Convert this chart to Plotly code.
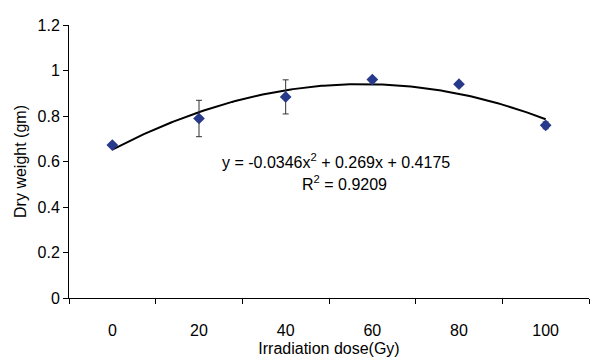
import numpy as np
import plotly.graph_objects as go

doses = ["0", "20", "40", "60", "80", "100"]
dry_weight = [0.672, 0.789, 0.884, 0.960, 0.940, 0.759]
err = [0.005, 0.080, 0.075, 0.005, 0.005, 0.015]
coef = [-0.0346, 0.269, 0.4175]  # trendline from chart label
eq_text = "y = -0.0346x<sup>2</sup> + 0.269x + 0.4175"
r2_text = "R<sup>2</sup> = 0.9209"

xi = list(range(1, len(doses) + 1))
xs = np.linspace(1, len(doses), 200)
ys = np.polyval(coef, xs)

fig = go.Figure()
fig.add_trace(go.Scatter(x=xs, y=ys, mode="lines",
                         line=dict(color="black", width=2), hoverinfo="skip"))
fig.add_trace(go.Scatter(x=xi, y=dry_weight, mode="markers",
                         marker=dict(symbol="diamond", size=9, color="#27398A"),
                         error_y=dict(type="data", array=err, visible=True,
                                      color="#333333", thickness=1, width=3)))

font = "Liberation Sans, Arial, sans-serif"
fig.add_annotation(x=3.58, y=0.604, xref="x", yref="y", text=eq_text, showarrow=False,
                   font=dict(family=font, size=16, color="black"))
fig.add_annotation(x=3.68, y=0.506, xref="x", yref="y", text=r2_text, showarrow=False,
                   font=dict(family=font, size=16, color="black"))

fig.update_layout(
    width=590, height=355,
    margin=dict(l=61, r=9, t=10, b=65),
    plot_bgcolor="white", paper_bgcolor="white",
    showlegend=False,
    font=dict(family=font, size=16, color="black"),
    xaxis=dict(range=[0.5, len(doses) + 0.5], tickvals=xi, ticktext=doses,
               ticks="", showgrid=False, zeroline=False,
               showline=True, linecolor="black", linewidth=1,
               ticklabelstandoff=18,
               minor=dict(tick0=0.5, dtick=1, ticks="outside", ticklen=5,
                          tickcolor="black", showgrid=False),
               title=dict(text="Irradiation dose(Gy)", standoff=4,
                          font=dict(family=font, size=16)),
               tickfont=dict(size=16)),
    yaxis=dict(range=[0, 1.2], tickvals=[0, 0.2, 0.4, 0.6, 0.8, 1, 1.2],
               ticktext=["0", "0.2", "0.4", "0.6", "0.8", "1", "1.2"],
               ticks="outside", ticklen=5, tickcolor="black",
               showgrid=False, zeroline=False,
               showline=True, linecolor="black", linewidth=1,
               title=dict(text="Dry weight (gm)", standoff=6,
                          font=dict(family=font, size=16)),
               tickfont=dict(size=16)),
)
fig.write_html("out.html")
